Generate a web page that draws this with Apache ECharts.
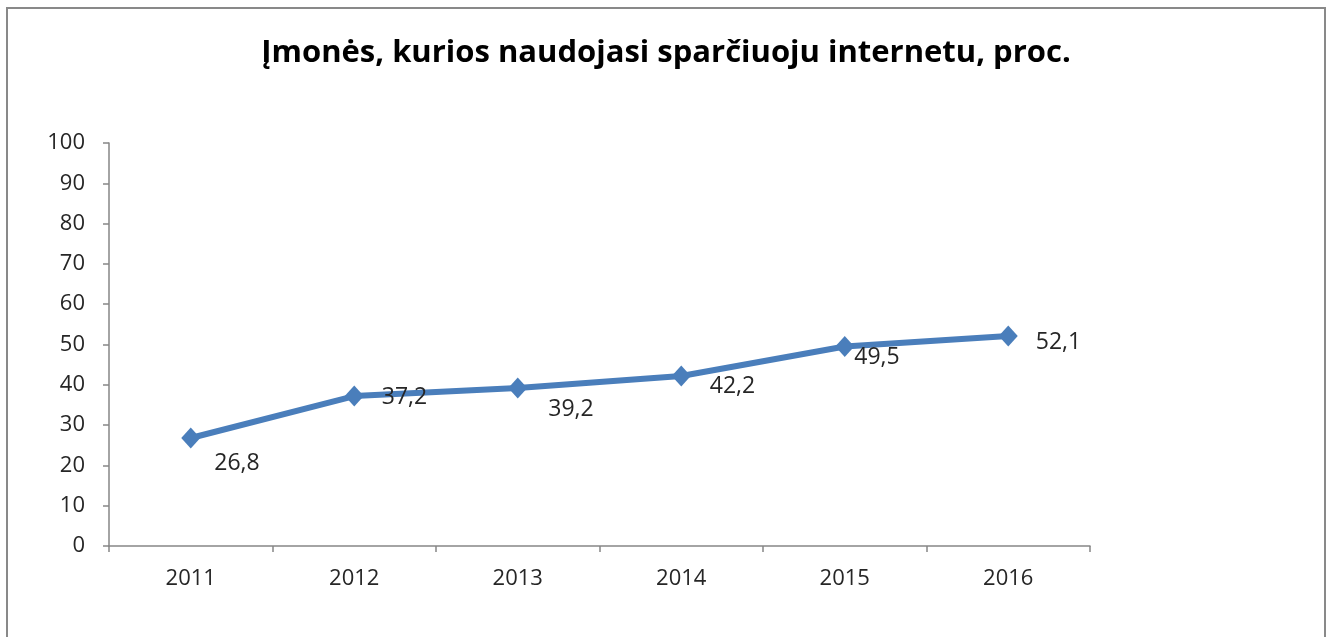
<!DOCTYPE html>
<html>
<head>
<meta charset="utf-8">
<script src="https://cdn.jsdelivr.net/npm/echarts@6/dist/echarts.min.js"></script>
<style>
  html, body { margin: 0; padding: 0; background: #fff; }
  #main { width: 1332px; height: 637px; }
</style>
</head>
<body>
<div id="main"></div>
<script>
var years = ['2011', '2012', '2013', '2014', '2015', '2016']
var values = [26.8, 37.2, 39.2, 42.2, 49.5, 52.1]
// label offsets, Excel puts them a bit randomly
var labelOffsets = [[14, 25], [18, 1], [21, 21], [19, 11], [0, 11], [18, 6]]

var myChart = echarts.init(document.getElementById('main'))

var option = {
  animation: false,
  title: {
    text: 'Įmonės, kurios naudojasi sparčiuoju internetu, proc.',
    left: 'center',
    top: 33,
    textStyle: {
      fontFamily: 'Open Sans',
      fontSize: 31,
      fontWeight: 'bold',
      color: '#000'
    }
  },
  graphic: [{
    type: 'rect',
    shape: { x: 7, y: 8, width: 1318, height: 640 },
    style: { fill: 'none', stroke: '#898989', lineWidth: 2 },
    silent: true
  }],
  grid: { left: 109, right: 242, top: 143, bottom: 91 },
  xAxis: {
    type: 'category',
    data: years,
    boundaryGap: true,
    axisLine: { lineStyle: { color: '#868686', width: 1.5 } },
    axisTick: { show: true, length: 6, lineStyle: { color: '#868686', width: 1.5 } },
    axisLabel: { margin: 22, fontSize: 22, color: '#262626', fontFamily: 'Open Sans' }
  },
  yAxis: {
    type: 'value',
    min: 0,
    max: 100,
    interval: 10,
    splitLine: { show: false },
    axisLine: { show: true, lineStyle: { color: '#868686', width: 1.5 } },
    axisTick: { show: true, length: 6, lineStyle: { color: '#868686', width: 1.5 } },
    axisLabel: { margin: 24, fontSize: 22, color: '#262626', fontFamily: 'Open Sans' }
  },
  series: [{
    type: 'line',
    data: values.map(function (v, i) {
      return {
        value: v,
        label: { offset: labelOffsets[i] }
      }
    }),
    symbol: 'diamond',
    symbolSize: [19, 21],
    itemStyle: { color: '#4A7EBB' },
    lineStyle: { color: '#4A7EBB', width: 6 },
    label: {
      show: true,
      position: 'right',
      distance: 0,
      fontSize: 23,
      color: '#262626',
      fontFamily: 'Open Sans',
      formatter: function (p) { return String(p.value).replace('.', ',') }
    }
  }]
}
myChart.setOption(option)
</script>
</body>
</html>
